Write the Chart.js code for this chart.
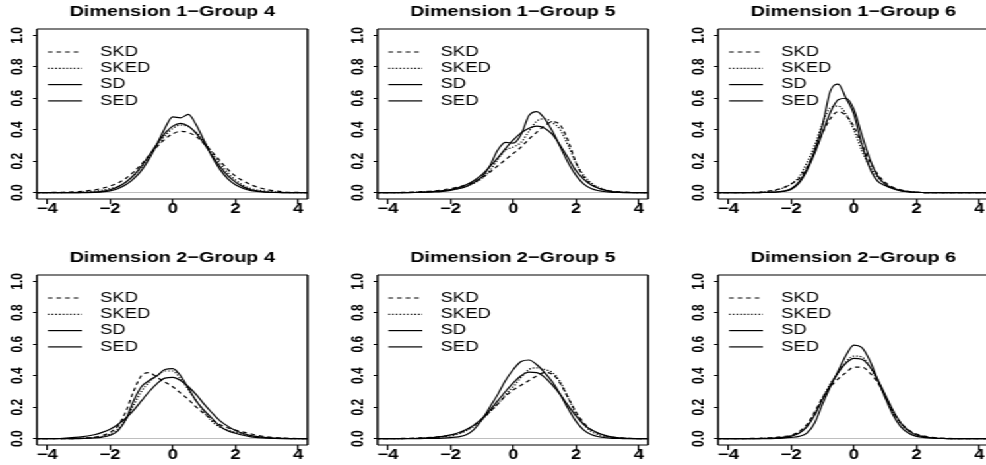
<!DOCTYPE html>
<html>
<head>
<meta charset="utf-8">
<script src="https://cdn.jsdelivr.net/npm/chart.js@4"></script>
<style>
  html, body { margin: 0; padding: 0; background: #fff; overflow: hidden; width: 986px; height: 465px; }
  /* the reference is stretched sideways, so the whole stage is too */
  #stage { position: absolute; left: 0; top: 0; width: 800px; height: 465px; transform: scaleX(1.32); transform-origin: 0 0; }
  #stage canvas { position: absolute; }
</style>
</head>
<body>
<div id="stage"></div>
<script>
// ── DATA ─────────────────────────────────────────────────────────────────────
const xs = [-4.4, -3.5, -3, -2.5, -2.25, -2, -1.75, -1.5, -1.25, -1, -0.75, -0.5, -0.25, 0,
            0.25, 0.5, 0.75, 1, 1.25, 1.5, 1.75, 2, 2.25, 2.5, 3, 3.5, 4.4];
const xTicks = [-4, -2, 0, 2, 4];
const yTicks = [0, 0.2, 0.4, 0.6, 0.8, 1.0];
const seriesNames = ['SKD', 'SKED', 'SD', 'SED'];
const panelTitles = ['Dimension 1\u2212Group 4', 'Dimension 1\u2212Group 5', 'Dimension 1\u2212Group 6',
                     'Dimension 2\u2212Group 4', 'Dimension 2\u2212Group 5', 'Dimension 2\u2212Group 6'];

const d1g4_skd  = [0, 0.003, 0.007, 0.018, 0.028, 0.042, 0.062, 0.090, 0.131, 0.181, 0.237, 0.292, 0.340, 0.374, 0.390, 0.383, 0.356, 0.312, 0.260, 0.204, 0.150, 0.105, 0.075, 0.050, 0.020, 0.006, 0];
const d1g4_sked = [0, 0.001, 0.003, 0.010, 0.016, 0.026, 0.038, 0.065, 0.107, 0.161, 0.227, 0.297, 0.361, 0.408, 0.430, 0.420, 0.383, 0.325, 0.255, 0.187, 0.127, 0.081, 0.047, 0.026, 0.010, 0.002, 0];
const d1g4_sd   = [0, 0, 0, 0.002, 0.005, 0.012, 0.025, 0.050, 0.088, 0.140, 0.215, 0.310, 0.410, 0.482, 0.476, 0.497, 0.430, 0.330, 0.230, 0.150, 0.090, 0.050, 0.027, 0.013, 0.003, 0, 0];
const d1g4_sed  = [0, 0, 0.001, 0.004, 0.009, 0.019, 0.037, 0.067, 0.110, 0.168, 0.238, 0.311, 0.377, 0.423, 0.440, 0.423, 0.377, 0.311, 0.238, 0.168, 0.110, 0.067, 0.037, 0.019, 0.004, 0.001, 0];

const d1g5_skd  = [0, 0.002, 0.006, 0.012, 0.018, 0.026, 0.036, 0.050, 0.070, 0.095, 0.130, 0.170, 0.210, 0.250, 0.290, 0.340, 0.385, 0.425, 0.450, 0.430, 0.330, 0.190, 0.100, 0.050, 0.015, 0.004, 0];
const d1g5_sked = [0, 0.001, 0.004, 0.008, 0.012, 0.018, 0.027, 0.040, 0.060, 0.090, 0.140, 0.210, 0.270, 0.290, 0.320, 0.390, 0.455, 0.470, 0.445, 0.400, 0.300, 0.190, 0.110, 0.060, 0.015, 0.003, 0];
const d1g5_sd   = [0, 0, 0.002, 0.005, 0.009, 0.015, 0.025, 0.040, 0.065, 0.100, 0.170, 0.270, 0.320, 0.315, 0.370, 0.490, 0.515, 0.470, 0.390, 0.290, 0.190, 0.110, 0.055, 0.025, 0.005, 0.001, 0];
const d1g5_sed  = [0, 0.001, 0.003, 0.008, 0.013, 0.020, 0.032, 0.050, 0.078, 0.115, 0.165, 0.220, 0.280, 0.335, 0.380, 0.410, 0.423, 0.410, 0.370, 0.300, 0.220, 0.140, 0.085, 0.048, 0.012, 0.002, 0];

const d1g6_skd  = [0, 0.001, 0.004, 0.018, 0.032, 0.055, 0.090, 0.160, 0.260, 0.380, 0.470, 0.515, 0.490, 0.420, 0.310, 0.200, 0.120, 0.065, 0.035, 0.018, 0.008, 0.003, 0.001, 0, 0, 0, 0];
const d1g6_sked = [0, 0.001, 0.003, 0.015, 0.030, 0.055, 0.100, 0.190, 0.300, 0.440, 0.540, 0.550, 0.500, 0.400, 0.270, 0.170, 0.100, 0.055, 0.030, 0.015, 0.008, 0.003, 0.001, 0, 0, 0, 0];
const d1g6_sd   = [0, 0, 0.001, 0.004, 0.010, 0.025, 0.070, 0.150, 0.270, 0.430, 0.645, 0.690, 0.600, 0.500, 0.310, 0.160, 0.075, 0.045, 0.025, 0.012, 0.005, 0.002, 0.001, 0, 0, 0, 0];
const d1g6_sed  = [0, 0, 0.001, 0.004, 0.008, 0.020, 0.060, 0.140, 0.250, 0.380, 0.510, 0.590, 0.600, 0.530, 0.370, 0.220, 0.110, 0.055, 0.028, 0.013, 0.006, 0.002, 0.001, 0, 0, 0, 0];

const d2g4_skd  = [0, 0, 0.002, 0.010, 0.020, 0.040, 0.080, 0.170, 0.300, 0.400, 0.420, 0.390, 0.360, 0.330, 0.290, 0.250, 0.200, 0.160, 0.120, 0.090, 0.070, 0.055, 0.042, 0.030, 0.012, 0.004, 0];
const d2g4_sked = [0, 0, 0.002, 0.008, 0.015, 0.030, 0.060, 0.120, 0.210, 0.300, 0.360, 0.400, 0.430, 0.430, 0.380, 0.310, 0.240, 0.170, 0.110, 0.075, 0.055, 0.040, 0.028, 0.018, 0.006, 0.002, 0];
const d2g4_sd   = [0, 0, 0.001, 0.005, 0.010, 0.022, 0.050, 0.120, 0.240, 0.330, 0.370, 0.400, 0.440, 0.445, 0.400, 0.320, 0.240, 0.180, 0.130, 0.080, 0.050, 0.035, 0.022, 0.012, 0.003, 0, 0];
const d2g4_sed  = [0, 0.003, 0.010, 0.025, 0.040, 0.060, 0.090, 0.130, 0.180, 0.240, 0.300, 0.350, 0.385, 0.390, 0.370, 0.330, 0.280, 0.220, 0.165, 0.115, 0.080, 0.052, 0.033, 0.020, 0.007, 0.002, 0];

const d2g5_skd  = [0, 0.002, 0.005, 0.010, 0.015, 0.022, 0.035, 0.055, 0.085, 0.125, 0.170, 0.220, 0.270, 0.310, 0.340, 0.370, 0.400, 0.420, 0.410, 0.350, 0.260, 0.170, 0.100, 0.055, 0.015, 0.004, 0];
const d2g5_sked = [0, 0.001, 0.003, 0.008, 0.012, 0.018, 0.030, 0.050, 0.080, 0.120, 0.170, 0.220, 0.280, 0.330, 0.390, 0.440, 0.450, 0.440, 0.420, 0.360, 0.260, 0.160, 0.090, 0.045, 0.012, 0.003, 0];
const d2g5_sd   = [0, 0, 0.001, 0.002, 0.004, 0.007, 0.012, 0.025, 0.060, 0.120, 0.200, 0.280, 0.370, 0.440, 0.490, 0.500, 0.470, 0.420, 0.360, 0.280, 0.190, 0.110, 0.055, 0.025, 0.005, 0.001, 0];
const d2g5_sed  = [0, 0.001, 0.003, 0.009, 0.015, 0.024, 0.038, 0.058, 0.088, 0.128, 0.180, 0.240, 0.300, 0.355, 0.400, 0.423, 0.420, 0.390, 0.340, 0.280, 0.210, 0.145, 0.090, 0.055, 0.016, 0.004, 0];

const d2g6_skd  = [0, 0.001, 0.003, 0.008, 0.014, 0.022, 0.045, 0.090, 0.170, 0.260, 0.330, 0.380, 0.420, 0.455, 0.455, 0.420, 0.360, 0.270, 0.170, 0.100, 0.055, 0.030, 0.016, 0.008, 0.002, 0, 0];
const d2g6_sked = [0, 0, 0.002, 0.006, 0.010, 0.018, 0.040, 0.080, 0.160, 0.260, 0.350, 0.420, 0.490, 0.525, 0.520, 0.460, 0.370, 0.270, 0.170, 0.095, 0.050, 0.025, 0.012, 0.006, 0.001, 0, 0];
const d2g6_sd   = [0, 0, 0, 0.002, 0.004, 0.008, 0.015, 0.035, 0.100, 0.220, 0.330, 0.430, 0.530, 0.595, 0.580, 0.500, 0.380, 0.260, 0.150, 0.075, 0.035, 0.015, 0.007, 0.003, 0.001, 0, 0];
const d2g6_sed  = [0, 0, 0.001, 0.004, 0.008, 0.016, 0.035, 0.075, 0.150, 0.250, 0.340, 0.420, 0.480, 0.510, 0.505, 0.460, 0.380, 0.280, 0.180, 0.100, 0.050, 0.024, 0.012, 0.006, 0.001, 0, 0];

const panelSeries = [
  [d1g4_skd, d1g4_sked, d1g4_sd, d1g4_sed],
  [d1g5_skd, d1g5_sked, d1g5_sd, d1g5_sed],
  [d1g6_skd, d1g6_sked, d1g6_sd, d1g6_sed],
  [d2g4_skd, d2g4_sked, d2g4_sd, d2g4_sed],
  [d2g5_skd, d2g5_sked, d2g5_sd, d2g5_sed],
  [d2g6_skd, d2g6_sked, d2g6_sd, d2g6_sed],
];

// ── STYLE / LAYOUT ───────────────────────────────────────────────────────────
const FONT = '"Liberation Sans", Arial, Helvetica, sans-serif';
const DASHES = [[3.5, 3], [1.2, 1.6], [], []];
const COL_LEFT = [0, 258.3, 515.9];   // stage units (before the 1.32 stretch)
const ROW_TOP  = [0, 246];
const CW = 260, CH = 232;

// box round the plot region, like R's box()
const boxPlugin = {
  id: 'rbox',
  afterDatasetsDraw(chart) {
    const { ctx, chartArea: a } = chart;
    ctx.save();
    ctx.strokeStyle = '#000';
    ctx.setLineDash([]);
    ctx.lineWidth = 1.2;
    ctx.beginPath();
    ctx.moveTo(a.left, a.top); ctx.lineTo(a.right, a.top);
    ctx.moveTo(a.left, a.bottom); ctx.lineTo(a.right, a.bottom);
    ctx.stroke();
    ctx.lineWidth = 1.5;
    ctx.beginPath();
    ctx.moveTo(a.left, a.top); ctx.lineTo(a.left, a.bottom);
    ctx.moveTo(a.right, a.top); ctx.lineTo(a.right, a.bottom);
    ctx.stroke();
    ctx.restore();
  }
};

// legend("topleft") drawn inside the plot region
const insetLegend = {
  id: 'insetLegend',
  afterDraw(chart, args, o) {
    const { ctx, chartArea: a } = chart;
    ctx.save();
    ctx.font = `${o.size}px ${FONT}`;
    ctx.textBaseline = 'middle';
    ctx.fillStyle = '#000';
    chart.data.datasets.forEach((ds, i) => {
      const y = a.top + o.top + i * o.row;
      ctx.strokeStyle = ds.borderColor;
      ctx.lineWidth = ds.borderWidth;
      ctx.setLineDash(ds.borderDash || []);
      ctx.beginPath();
      ctx.moveTo(a.left + o.lineFrom, y);
      ctx.lineTo(a.left + o.lineTo, y);
      ctx.stroke();
      ctx.fillText(ds.label, a.left + o.textAt, y);
    });
    ctx.restore();
  }
};

function makePanel(i) {
  const canvas = document.createElement('canvas');
  canvas.width = CW;
  canvas.height = CH;
  canvas.style.left = COL_LEFT[i % 3] + 'px';
  canvas.style.top = ROW_TOP[Math.floor(i / 3)] + 'px';
  document.getElementById('stage').appendChild(canvas);

  const datasets = panelSeries[i].map((vals, k) => ({
    label: seriesNames[k],
    data: xs.map((x, j) => ({ x, y: vals[j] })),
    borderColor: '#000',
    borderWidth: 1.2,
    borderDash: DASHES[k],
    pointRadius: 0,
    cubicInterpolationMode: 'monotone',
    fill: false,
  }));

  new Chart(canvas, {
    type: 'line',
    data: { datasets },
    options: {
      responsive: false,
      animation: false,
      devicePixelRatio: 1,
      events: [],
      layout: { padding: { left: 0, right: 27, top: 0, bottom: 4 } },
      plugins: {
        legend: { display: false },
        tooltip: { enabled: false },
        title: {
          display: true, text: panelTitles[i], fullSize: false, color: '#000',
          font: { family: FONT, size: 15, weight: 'bold', lineHeight: 1.2 },
          padding: { top: 3, bottom: 8 }
        },
        insetLegend: { size: 14, top: 23, row: 16.3, lineFrom: 8.3, lineTo: 34, textAt: 47.7 }
      },
      scales: {
        x: {
          type: 'linear', min: -4.33, max: 4.3,
          border: { display: false },
          grid: { drawOnChartArea: false, color: '#000', tickLength: 5, lineWidth: 1.2 },
          afterBuildTicks: s => { s.ticks = xTicks.map(v => ({ value: v })); },
          afterFit: s => { s.height = 29; },
          ticks: {
            autoSkip: false, maxRotation: 0, color: '#000', padding: -2,
            font: { family: FONT, size: 14, weight: 'bold', lineHeight: 1 },
            callback: v => (v < 0 ? '\u2212' + (-v) : String(v))
          }
        },
        y: {
          min: -0.04, max: 1.04,
          border: { display: false },
          grid: {
            color: c => (c.tick && c.tick.value === 0 ? '#bebebe' : 'rgba(0,0,0,0)'),
            tickColor: '#000', tickLength: 3
          },
          afterBuildTicks: s => { s.ticks = yTicks.map(v => ({ value: v })); },
          afterFit: s => { s.width = 28; },
          ticks: {
            autoSkip: false, minRotation: 90, maxRotation: 90, crossAlign: 'center',
            color: '#000', padding: 3.2,
            font: { family: FONT, size: 12, weight: 'bold' },
            callback: v => Number(v).toFixed(1)
          }
        }
      }
    },
    plugins: [boxPlugin, insetLegend]
  });
}

for (let i = 0; i < 6; i++) makePanel(i);
</script>
</body>
</html>
